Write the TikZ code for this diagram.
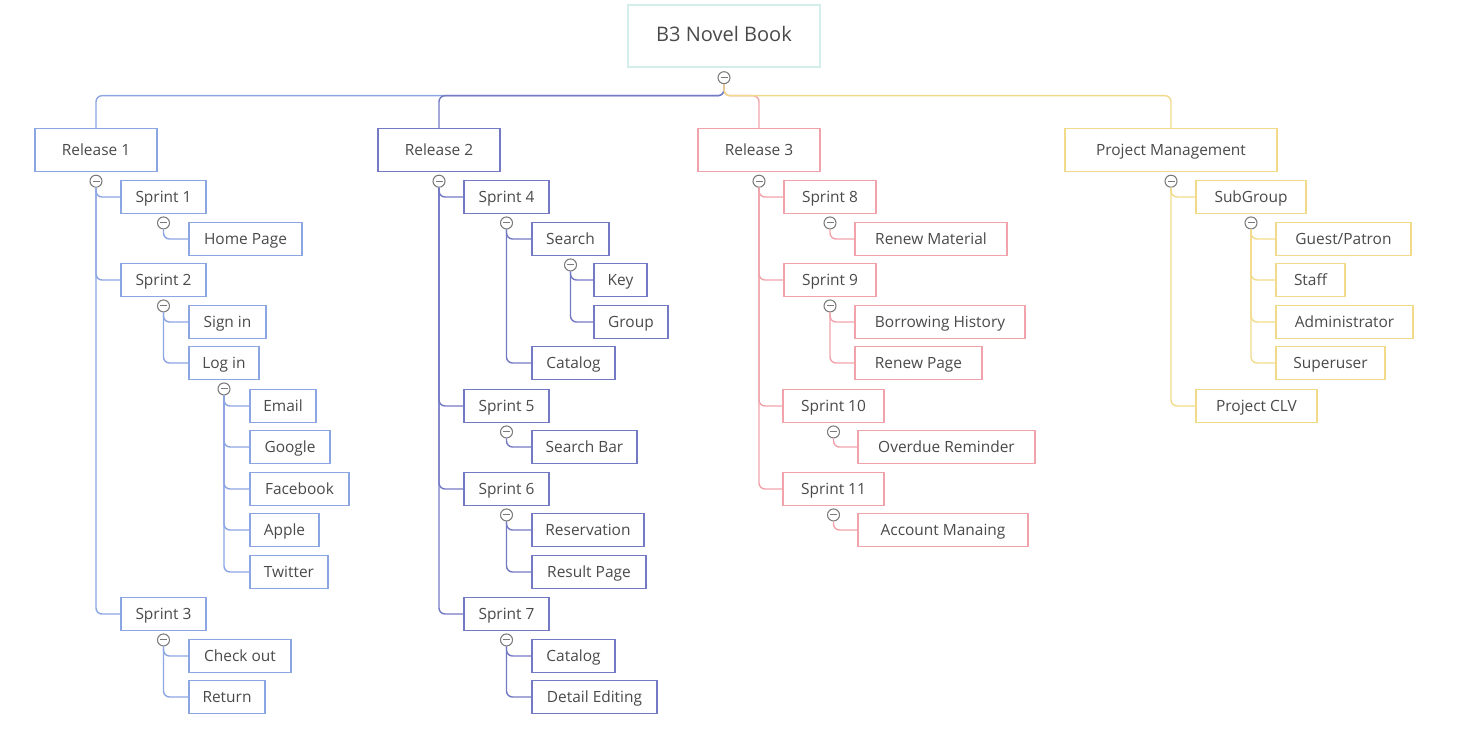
\documentclass[tikz,border=0pt]{standalone}
\usepackage{fontspec}
\setmainfont{Open Sans}
\usetikzlibrary{calc}

\definecolor{relone}{HTML}{8CA5E3}
\definecolor{reltwo}{HTML}{7479C4}
\definecolor{relthree}{HTML}{F0A3AB}
\definecolor{mgmt}{HTML}{F1DA8A}
\definecolor{rootline}{HTML}{D3EDEB}
\definecolor{ink}{HTML}{4A4A4A}
\definecolor{foldgray}{HTML}{7A7A7A}

\begin{document}
\begin{tikzpicture}[x=0.02cm, y=-0.02cm, line width=0.8pt,
	box/.style={draw, rectangle, inner sep=0pt, fill=white, text=ink,
		font=\fontsize{8.8}{10}\selectfont, minimum height=0.65cm,
		text height=1.55ex, text depth=0.4ex},
	fold/.style={circle, draw=foldgray, fill=white, line width=0.6pt,
		minimum size=0.24cm, inner sep=0pt,
		path picture={\draw[foldgray, line width=0.6pt]
			([xshift=-0.07cm]path picture bounding box.center) --
			([xshift=0.07cm]path picture bounding box.center);}},
	link/.style={rounded corners=0.12cm}]

\useasboundingbox (0,0) rectangle (1470,729);

% root and releases
\node[box, draw=rootline, minimum width=3.84cm, minimum height=1.24cm,
	font=\fontsize{11.4}{13}\selectfont] (root) at (724,36) {B3 Novel Book};
\node[box, draw=relone, minimum width=2.44cm, minimum height=0.86cm] (rel1) at (96,150) {Release 1};
\node[box, draw=reltwo, minimum width=2.44cm, minimum height=0.86cm] (rel2) at (439,150) {Release 2};
\node[box, draw=relthree, minimum width=2.44cm, minimum height=0.86cm] (rel3) at (759,150) {Release 3};
\node[box, draw=mgmt, minimum width=4.24cm, minimum height=0.86cm] (pm) at (1171,150) {Project Management};

% Release 1
\foreach \nm/\x/\y/\w/\txt in {s1/163.5/197/85/Sprint 1, home/245.5/239/113/Home Page,
	s2/163.5/280/85/Sprint 2, signin/227.5/322/77/Sign in, login/224/363/70/Log in,
	email/283/406/66/Email, google/290/447/80/Google, facebook/299.5/489/99/Facebook,
	apple/284.5/530/69/Apple, twitter/289/572/78/Twitter, s3/163.5/614/85/Sprint 3,
	checkout/240/656/102/Check out, return/227/697/76/Return}
	\node[box, draw=relone, minimum width=\w*0.02cm] (\nm) at (\x,\y) {\txt};

% Release 2
\foreach \nm/\x/\y/\w/\txt in {s4/506.5/197/85/Sprint 4, search/570.5/239/77/Search,
	key/620.5/280/53/Key, group/631/322/74/Group, catalogA/573.5/363/83/Catalog,
	s5/506.5/406/85/Sprint 5, searchbar/584.5/447/105/Search Bar,
	s6/506.5/489/85/Sprint 6, reserv/588/530/112/Reservation, result/589/572/114/Result Page,
	s7/506.5/614/85/Sprint 7, catalogB/573.5/656/83/Catalog, detail/594.5/697/125/Detail Editing}
	\node[box, draw=reltwo, minimum width=\w*0.02cm] (\nm) at (\x,\y) {\txt};

% Release 3
\foreach \nm/\x/\y/\w/\txt in {s8/830/197/92/Sprint 8, renewmat/931/239/152/Renew Material,
	s9/830/280/92/Sprint 9, borrow/940/322/170/Borrowing History, renewpage/918.5/363/127/Renew Page,
	s10/833.5/406/101/Sprint 10, overdue/946.5/447/177/Overdue Reminder,
	s11/833.5/489/101/Sprint 11, account/943/530/170/Account Manaing}
	\node[box, draw=relthree, minimum width=\w*0.02cm] (\nm) at (\x,\y) {\txt};

% Project Management
\foreach \nm/\x/\y/\w/\txt in {subgroup/1251/197/110/SubGroup, guest/1343.5/239/135/{Guest/Patron},
	staff/1310.5/280/69/Staff, admin/1344.5/322/137/Administrator,
	superuser/1330.5/363/109/Superuser, clv/1256.5/406/121/Project CLV}
	\node[box, draw=mgmt, minimum width=\w*0.02cm] (\nm) at (\x,\y) {\txt};

% fold buttons
\node[fold] (root-f) at ([yshift=-0.2cm]root.south) {};
\foreach \p in {rel1, rel2, rel3, pm, s1, s2, login, s3, s4, search, s5, s6, s7,
	s8, s9, s10, s11, subgroup}
	\node[fold] (\p-f) at ([yshift=-0.18cm]\p.south) {};

\coordinate (hub) at ([yshift=-0.36cm]root-f.center);

\draw[link, relone] (root-f.south) -- (hub) -| (rel1.north);
\draw[link, reltwo] (root-f.south) -- (hub) -| (rel2.north);
\draw[link, relthree] (root-f.south) -- (hub) -| (rel3.north);
\draw[link, mgmt] (root-f.south) -- (hub) -| (pm.north);

\foreach \p/\c in {rel1/s1, rel1/s2, rel1/s3, s1/home, s2/signin, s2/login,
	login/email, login/google, login/facebook, login/apple, login/twitter,
	s3/checkout, s3/return}
	\draw[link, relone] (\p-f.south) |- (\c.west);

\foreach \p/\c in {rel2/s4, rel2/s5, rel2/s6, rel2/s7, s4/search, s4/catalogA,
	search/key, search/group, s5/searchbar, s6/reserv, s6/result,
	s7/catalogB, s7/detail}
	\draw[link, reltwo] (\p-f.south) |- (\c.west);

\foreach \p/\c in {rel3/s8, rel3/s9, rel3/s10, rel3/s11, s8/renewmat, s9/borrow,
	s9/renewpage, s10/overdue, s11/account}
	\draw[link, relthree] (\p-f.south) |- (\c.west);

\foreach \p/\c in {pm/subgroup, pm/clv, subgroup/guest, subgroup/staff,
	subgroup/admin, subgroup/superuser}
	\draw[link, mgmt] (\p-f.south) |- (\c.west);

\end{tikzpicture}
\end{document}
